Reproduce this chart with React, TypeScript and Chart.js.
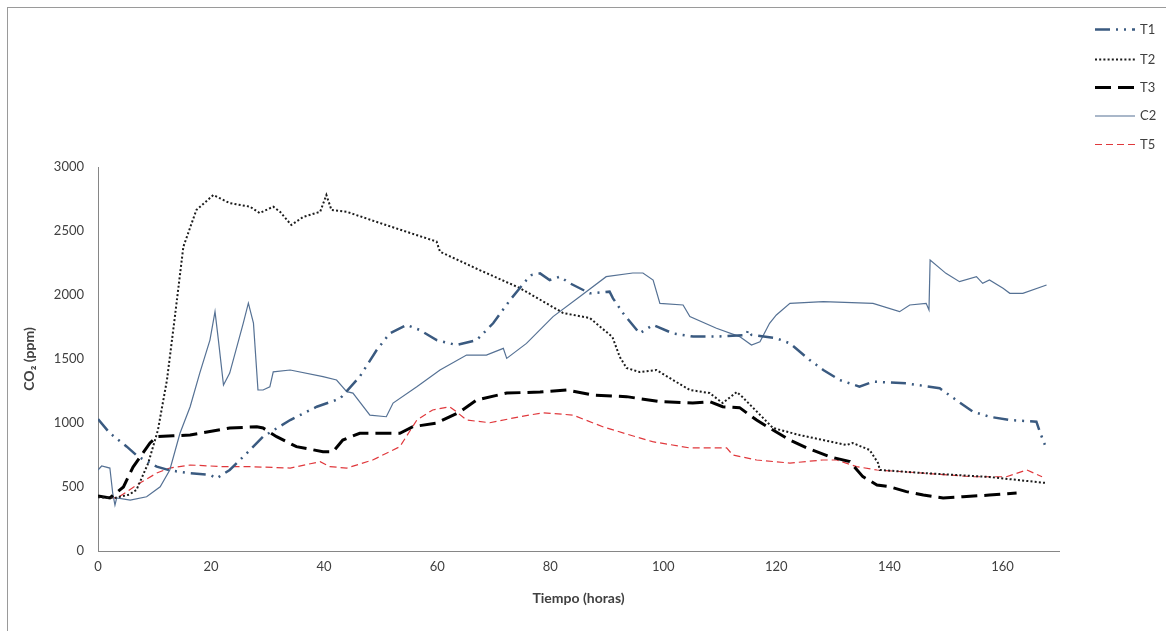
import React, { useEffect, useRef } from "react";
import { Chart, registerables } from "chart.js";

Chart.register(...registerables);

// Axis ticks
const xTicks = [0, 20, 40, 60, 80, 100, 120, 140, 160];
const yTicks = [0, 500, 1000, 1500, 2000, 2500, 3000];

// T1
const t1Hours = [0, 2.1, 5.1, 7.1, 10.4, 12.7, 16.3, 19.8, 21, 23.3, 26.3, 29.2, 34, 38.7, 42.8, 46.3, 49.3, 51.6, 54.6, 56.9, 59.9, 63.4, 67, 69.9, 72.9, 75.8, 76.7, 78.2, 79.9, 81.7, 83.5, 87, 90.5, 91.1, 92.9, 95.8, 98.2, 101.7, 105.3, 109.4, 114.7, 115, 115.6, 120, 122.4, 125.9, 128.3, 131.2, 134.7, 137.1, 143, 148.9, 151.8, 154.8, 157.7, 161.3, 166, 166.6, 167.5];
const t1Ppm = [1030, 920, 815, 737, 659, 630, 607, 594, 568, 633, 763, 893, 1023, 1127, 1190, 1362, 1570, 1700, 1766, 1727, 1648, 1609, 1648, 1779, 1961, 2117, 2156, 2169, 2117, 2143, 2091, 2013, 2026, 1974, 1857, 1700, 1766, 1700, 1675, 1675, 1688, 1727, 1688, 1662, 1622, 1492, 1414, 1336, 1284, 1323, 1310, 1271, 1180, 1088, 1049, 1023, 1010, 932, 830];

// T2
const t2Hours = [0, 3, 5.5, 6.8, 8.9, 10.6, 12.2, 13.6, 15.1, 17.4, 20.4, 23.3, 26.9, 28.6, 31, 32.2, 34.2, 36.3, 39.3, 40.4, 41.3, 44, 49.9, 59.9, 60.5, 67.5, 74.6, 82.3, 87, 91, 92.3, 93.5, 95.8, 98.8, 101.7, 104.7, 108.2, 110.5, 113, 114, 119.4, 124.1, 132.4, 133.5, 136.5, 138, 138.3, 145.9, 157.7, 167.8];
const t2Ppm = [420, 415, 440, 477, 688, 945, 1336, 1830, 2377, 2664, 2781, 2718, 2690, 2640, 2690, 2650, 2547, 2610, 2650, 2781, 2664, 2650, 2562, 2417, 2338, 2195, 2055, 1859, 1820, 1672, 1516, 1430, 1398, 1414, 1336, 1258, 1234, 1156, 1242, 1203, 961, 906, 828, 844, 789, 687, 633, 609, 578, 531];

// T3
const t3Hours = [0, 2.1, 2.8, 4.5, 6.2, 9.2, 10.4, 13.3, 16.3, 23.3, 28.1, 29.2, 31.6, 35.1, 39.8, 41.6, 43.3, 46.3, 49.9, 53.4, 55.7, 59.9, 64, 67, 72.3, 78.2, 82.9, 87.5, 93.5, 99.4, 105.2, 108.2, 110.5, 113.5, 116.5, 119.4, 122.4, 125.4, 129.4, 133, 135.3, 137.8, 140, 143, 146, 149.5, 153, 157.7, 162.5];
const t3Ppm = [430, 414, 440, 500, 656, 844, 893, 900, 906, 961, 971, 961, 893, 815, 776, 776, 867, 920, 920, 920, 971, 1000, 1086, 1180, 1234, 1242, 1258, 1219, 1206, 1167, 1156, 1167, 1127, 1120, 1023, 945, 867, 805, 737, 698, 581, 516, 502, 464, 437, 414, 424, 437, 453];

// C2
const c2Hours = [0, 0.65, 2.1, 2.6, 3, 3.3, 5.7, 8.6, 11, 12.7, 14.5, 16.3, 18, 19.8, 20.7, 21.3, 22.2, 23.3, 25.7, 26.6, 27.5, 28.3, 29.2, 30.4, 31, 34, 39.8, 42.2, 44, 45.1, 48.1, 51, 52.2, 56.4, 60.5, 65.2, 68.7, 71.7, 72.3, 75.8, 80.5, 85.2, 89.9, 94.6, 96.4, 98.2, 99.4, 103.5, 104.7, 109.4, 113.5, 115.6, 117.1, 118.8, 120, 122.4, 128.3, 137.1, 141.8, 143.6, 146.5, 147, 147.2, 150, 152.4, 155.4, 156.5, 157.7, 160.1, 161.3, 163.6, 167.8];
const c2Ppm = [633, 664, 648, 453, 359, 414, 398, 424, 502, 633, 920, 1127, 1390, 1648, 1870, 1648, 1297, 1390, 1780, 1936, 1780, 1258, 1258, 1283, 1400, 1414, 1362, 1336, 1245, 1234, 1062, 1049, 1156, 1283, 1414, 1531, 1531, 1583, 1505, 1622, 1831, 1987, 2143, 2172, 2172, 2117, 1935, 1922, 1831, 1740, 1675, 1609, 1635, 1779, 1844, 1935, 1948, 1935, 1870, 1922, 1935, 1883, 2273, 2169, 2104, 2143, 2091, 2117, 2052, 2013, 2013, 2078];

// T5
const t5Hours = [0, 3.4, 7.4, 10.4, 12.7, 16.3, 22.1, 26.9, 34, 39.3, 41, 44, 48.6, 53.4, 56.4, 59.2, 62.2, 63.4, 65.2, 69.3, 74.6, 78.7, 84, 89.3, 94.1, 98.1, 104.7, 111.2, 112.3, 116.5, 122.4, 128.2, 130.7, 134.2, 137.8, 145.9, 154.7, 160.7, 164.3, 167];
const t5Ppm = [424, 414, 531, 609, 648, 672, 659, 659, 648, 698, 659, 648, 711, 815, 1023, 1102, 1127, 1088, 1023, 1002, 1049, 1080, 1062, 971, 906, 854, 805, 805, 750, 711, 687, 711, 711, 659, 633, 609, 580, 580, 633, 580];

const toPoints = (hours: number[], ppm: number[]) =>
  hours.map((h, i) => ({ x: h, y: ppm[i] }));

const FONT = "Lato, 'Open Sans', sans-serif";
const TEXT_COLOR = "#404040";

// Legend drawn at the top right, outside the plot area
const sideLegend = {
  id: "sideLegend",
  afterDraw(chart: any) {
    const ctx = chart.ctx;
    const rows = [21.5, 51.5, 79.5, 108, 136.5];
    ctx.save();
    chart.data.datasets.forEach((ds: any, i: number) => {
      const y = rows[i];
      ctx.beginPath();
      ctx.setLineDash(ds.borderDash || []);
      ctx.lineWidth = ds.borderWidth;
      ctx.strokeStyle = ds.borderColor;
      ctx.moveTo(1087, y);
      ctx.lineTo(1127, y);
      ctx.stroke();
      ctx.setLineDash([]);
      ctx.fillStyle = TEXT_COLOR;
      ctx.font = `13px ${FONT}`;
      ctx.textBaseline = "middle";
      ctx.textAlign = "left";
      ctx.fillText(ds.label, 1132, y);
    });
    ctx.restore();
  },
};

export default function App() {
  const canvasRef = useRef<HTMLCanvasElement | null>(null);

  useEffect(() => {
    if (!canvasRef.current) return;
    const chart = new Chart(canvasRef.current, {
      type: "line",
      data: {
        datasets: [
          {
            label: "T1",
            data: toPoints(t1Hours, t1Ppm),
            borderColor: "#3a5a80",
            borderWidth: 2.5,
            borderDash: [15, 6, 2, 6, 2, 6],
            pointRadius: 0,
            tension: 0,
          },
          {
            label: "T2",
            data: toPoints(t2Hours, t2Ppm),
            borderColor: "#1c1c1c",
            borderWidth: 2,
            borderDash: [2, 2.2],
            pointRadius: 0,
            tension: 0,
          },
          {
            label: "T3",
            data: toPoints(t3Hours, t3Ppm),
            borderColor: "#000000",
            borderWidth: 3,
            borderDash: [16, 7],
            pointRadius: 0,
            tension: 0,
          },
          {
            label: "C2",
            data: toPoints(c2Hours, c2Ppm),
            borderColor: "#557194",
            borderWidth: 1.2,
            borderDash: [],
            pointRadius: 0,
            tension: 0,
          },
          {
            label: "T5",
            data: toPoints(t5Hours, t5Ppm),
            borderColor: "#e0383c",
            borderWidth: 1.2,
            borderDash: [7, 4],
            pointRadius: 0,
            tension: 0,
          },
        ],
      },
      options: {
        animation: false,
        responsive: false,
        layout: { padding: { top: 159, right: 107, left: 0, bottom: 0 } },
        plugins: {
          legend: { display: false },
          tooltip: { enabled: false },
        },
        scales: {
          x: {
            type: "linear",
            min: 0,
            max: 170,
            afterBuildTicks: (s: any) => {
              s.ticks = xTicks.map((v) => ({ value: v }));
            },
            afterFit: (s: any) => {
              s.height = 80;
            },
            grid: { display: false, drawTicks: false },
            border: { display: true, color: "#868686", width: 1 },
            ticks: {
              padding: 8,
              maxRotation: 0,
              color: TEXT_COLOR,
              font: { family: FONT, size: 13 },
              callback: (v: any) => String(v),
            },
            title: {
              display: true,
              text: "Tiempo (horas)",
              color: TEXT_COLOR,
              font: { family: FONT, size: 14, weight: "bold" },
              padding: { top: 0, bottom: 24 },
            },
          },
          y: {
            min: 0,
            max: 3000,
            afterBuildTicks: (s: any) => {
              s.ticks = yTicks.map((v) => ({ value: v }));
            },
            afterFit: (s: any) => {
              s.width = 90;
            },
            grid: { display: false, drawTicks: false },
            border: { display: true, color: "#868686", width: 1 },
            ticks: {
              padding: 14,
              color: TEXT_COLOR,
              font: { family: FONT, size: 13 },
              callback: (v: any) => String(v),
            },
            title: {
              display: true,
              text: "CO₂ (ppm)",
              color: TEXT_COLOR,
              font: { family: FONT, size: 14, weight: "bold" },
              padding: { top: 13, bottom: 0 },
            },
          },
        },
      },
      plugins: [sideLegend],
    });
    return () => chart.destroy();
  }, []);

  return (
    <div
      style={{
        position: "absolute",
        left: 7,
        top: 7,
        width: 1159,
        height: 624,
        borderLeft: "1px solid #9a9a9a",
        borderTop: "1px solid #9a9a9a",
        background: "#ffffff",
      }}
    >
      <canvas ref={canvasRef} width={1158} height={623} style={{ display: "block" }} />
    </div>
  );
}
